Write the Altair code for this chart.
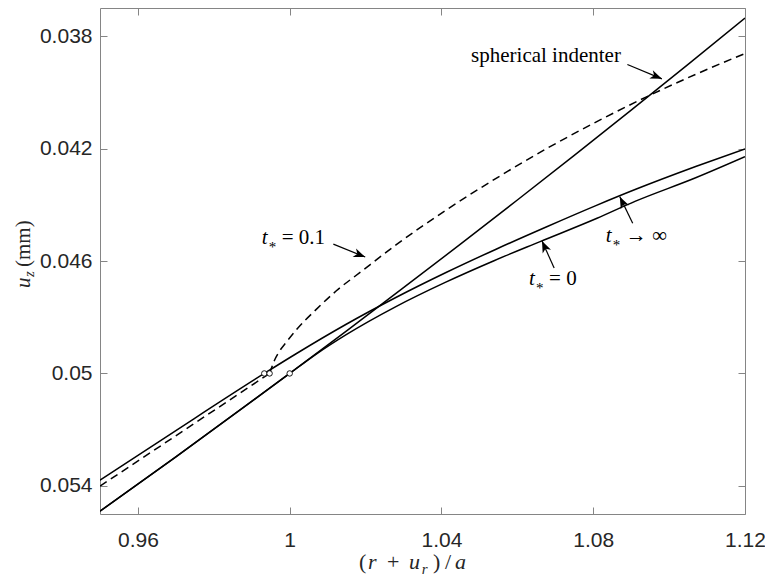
import math
import altair as alt
import pandas as pd

# ---------------- data ----------------
x_ticks = [0.96, 1.0, 1.04, 1.08, 1.12]
y_ticks = [0.038, 0.042, 0.046, 0.05, 0.054]

sph_x = [0.95, 0.97, 1.0, 1.015, 1.03, 1.045, 1.06, 1.075, 1.09, 1.105, 1.12]
sph_y = [0.0549, 0.05297, 0.05, 0.048486, 0.04695, 0.045401, 0.04383, 0.042241, 0.04063, 0.039005, 0.03736]

t0_x = [0.95, 0.97, 1.0, 1.007, 1.015, 1.028, 1.041, 1.054, 1.066, 1.081, 1.091, 1.107, 1.12]
t0_y = [0.0549, 0.05297, 0.05, 0.04931, 0.04861, 0.04762, 0.04676, 0.04598, 0.04531, 0.04448, 0.04388, 0.04304, 0.04229]

tinf_x = [0.95, 0.97, 0.9933, 1.0018, 1.0149, 1.0281, 1.0412, 1.0544, 1.0676, 1.0807, 1.0912, 1.107, 1.12]
tinf_y = [0.0538, 0.05203, 0.05, 0.04929, 0.04825, 0.04729, 0.04641, 0.04558, 0.04479, 0.04403, 0.04345, 0.04264, 0.04201]

# t* = 0.1 : outside part (left of the circle) and the part right of it
t01_left_x = [0.95, 0.9947]
t01_left_y = [0.05401, 0.05]
t01_x = [0.9947, 0.9952, 0.996, 0.9973, 0.9991, 1.0018, 1.007, 1.0123, 1.0189,
         1.0281, 1.0412, 1.0544, 1.0676, 1.0807, 1.0939, 1.107, 1.12]
t01_y = [0.05, 0.04981, 0.04953, 0.04921, 0.04889, 0.04844, 0.04772, 0.04706, 0.04637,
         0.04542, 0.04419, 0.04306, 0.04201, 0.04106, 0.04017, 0.03936, 0.03862]

circle_x = [0.9933, 0.9947, 1.0]
circle_y = [0.05, 0.05, 0.05]

arrow_tail_x = [1.0890, 1.0115, 1.0697, 1.0904]
arrow_tail_y = [0.03901, 0.04540, 0.04625, 0.04466]
arrow_tip_x = [1.0981, 1.0199, 1.0665, 1.0870]
arrow_tip_y = [0.03952, 0.04586, 0.04529, 0.04371]

sph_label = "spherical indenter"
sph_label_x = [1.0478]
sph_label_y = [0.03869]

t_label_x = [0.9926, 1.0631, 1.0833]
t_label_y = [0.04519, 0.04664, 0.04512]
t_label_rest = ["= 0.1", "= 0", "→ ∞"]

# ---------------- layout ----------------
W, H = 645, 506
X_DOMAIN = [0.95, 1.12]
Y_DOMAIN = [0.037, 0.055]
FRAME = "#858585"
LABEL = "#262626"
SERIF = "Liberation Serif"
SANS = "Liberation Sans"

xs = alt.Scale(domain=X_DOMAIN, nice=False, zero=False)
ys = alt.Scale(domain=Y_DOMAIN, reverse=True, nice=False, zero=False)

def series(xv, yv, name):
    return pd.DataFrame({"x": xv, "y": yv, "s": name, "i": range(len(xv))})

solid_df = pd.concat([series(sph_x, sph_y, "sph"),
                      series(t0_x, t0_y, "t0"),
                      series(tinf_x, tinf_y, "tinf")])
dash_df = pd.concat([series(t01_left_x, t01_left_y, "a"), series(t01_x, t01_y, "b")])
circ_df = pd.DataFrame({"x": circle_x, "y": circle_y})

angles = []
for tx0, ty0, tx1, ty1 in zip(arrow_tail_x, arrow_tail_y, arrow_tip_x, arrow_tip_y):
    dx = (tx1 - tx0) * W / (X_DOMAIN[1] - X_DOMAIN[0])
    dy = (ty1 - ty0) * H / (Y_DOMAIN[1] - Y_DOMAIN[0])
    angles.append(math.degrees(math.atan2(dx, -dy)) % 360)
arr_df = pd.DataFrame({"x": arrow_tail_x, "y": arrow_tail_y,
                       "x2": arrow_tip_x, "y2": arrow_tip_y, "ang": angles})

sph_df = pd.DataFrame({"x": sph_label_x, "y": sph_label_y, "t": [sph_label]})
tl_df = pd.DataFrame({"x": t_label_x, "y": t_label_y, "rest": t_label_rest})

X = lambda **kw: alt.X("x:Q", scale=xs, **kw)
Y = lambda **kw: alt.Y("y:Q", scale=ys, **kw)

axis_common = dict(domain=False, grid=False, offset=-7, tickSize=7, tickColor=FRAME,
                   tickWidth=1, title=None)

bottom_axis = alt.Axis(orient="bottom", values=x_ticks, format=".2~f", labelFont=SANS,
                       labelFontSize=21, labelColor=LABEL, labelPadding=15,
                       labelFlush=False, labelOverlap=False, labelBound=False, **axis_common)
left_axis = alt.Axis(orient="left", values=y_ticks, format=".3~f", labelFont=SANS,
                     labelFontSize=21, labelColor=LABEL, labelPadding=8,
                     labelFlush=False, labelOverlap=False, labelBound=False, **axis_common)
top_axis = alt.Axis(orient="top", values=x_ticks, labels=False, **axis_common)
right_axis = alt.Axis(orient="right", values=y_ticks, labels=False, **axis_common)

solid = alt.Chart(solid_df).mark_line(color="black", strokeWidth=1.5, clip=True,
                                      interpolate="monotone").encode(
    x=X(axis=bottom_axis), y=Y(axis=left_axis), detail="s:N", order="i:Q")

dashed = alt.Chart(dash_df).mark_line(color="black", strokeWidth=1.5, clip=True,
                                      strokeDash=[8, 5], interpolate="monotone").encode(
    x=X(axis=None), y=Y(axis=None), detail="s:N", order="i:Q")

circles = alt.Chart(circ_df).mark_point(shape="circle", filled=True, fill="white",
                                        stroke="black", strokeWidth=0.9, size=30,
                                        opacity=1).encode(
    x=X(axis=top_axis), y=Y(axis=right_axis))

arrow_lines = alt.Chart(arr_df).mark_rule(color="black", strokeWidth=1.2).encode(
    x=X(axis=None), y=Y(axis=None), x2="x2:Q", y2="y2:Q")

arrow_heads = alt.Chart(arr_df).mark_point(
    shape="M0,0 L0.7,1.8 L0,1.3 L-0.7,1.8 Z", filled=True, color="black",
    size=170, opacity=1).encode(
    x=alt.X("x2:Q", scale=xs, axis=None), y=alt.Y("y2:Q", scale=ys, axis=None),
    angle=alt.Angle("ang:Q", scale=None))

sph_text = alt.Chart(sph_df).mark_text(align="left", baseline="alphabetic", dy=6,
                                       font=SERIF, fontSize=21, color="black").encode(
    x=X(axis=None), y=Y(axis=None), text="t:N")

t_it = alt.Chart(tl_df).mark_text(align="left", baseline="alphabetic", dy=6,
                                  font=SERIF, fontSize=21, fontStyle="italic",
                                  color="black").encode(
    x=X(axis=None), y=Y(axis=None), text=alt.value("t"))
t_star = alt.Chart(tl_df).mark_text(align="left", baseline="alphabetic", dx=7, dy=14,
                                    font=SERIF, fontSize=15, color="black").encode(
    x=X(axis=None), y=Y(axis=None), text=alt.value("*"))
t_rest = alt.Chart(tl_df).mark_text(align="left", baseline="alphabetic", dx=20, dy=6,
                                    font=SERIF, fontSize=21, color="black").encode(
    x=X(axis=None), y=Y(axis=None), text="rest:N")

# axis titles built from pieces (pixel positions relative to the plot area)
xt_roman = pd.DataFrame({"px": [259, 287, 333, 345], "py": [561, 561, 561, 561],
                         "t": ["(", "+", ")", "/"], "fs": [22, 22, 22, 22]})
xt_italic = pd.DataFrame({"px": [268, 309, 321.8, 355], "py": [561, 561, 566, 561],
                          "t": ["r", "u", "r", "a"], "fs": [22, 22, 15, 22]})
yt_roman = pd.DataFrame({"px": [-70], "py": [259], "t": ["(mm)"], "fs": [21]})
yt_italic = pd.DataFrame({"px": [-70, -66], "py": [280, 269], "t": ["u", "z"], "fs": [21, 15]})

def pieces(df, italic, angle=0):
    kw = dict(align="left", baseline="alphabetic", font=SERIF, color="#262626", angle=angle)
    if italic:
        kw["fontStyle"] = "italic"
    return alt.Chart(df).mark_text(**kw).encode(
        x=alt.X("px:Q", scale=None, axis=None), y=alt.Y("py:Q", scale=None, axis=None),
        text="t:N", size=alt.Size("fs:Q", scale=None, legend=None))

chart = alt.layer(
    solid, dashed, circles, arrow_lines, arrow_heads, sph_text, t_it, t_star, t_rest,
    pieces(xt_roman, False), pieces(xt_italic, True),
    pieces(yt_roman, False, 270), pieces(yt_italic, True, 270),
).resolve_axis(x="independent", y="independent").properties(
    width=W, height=H, autosize=alt.AutoSizeParams(type="none"),
    padding={"left": 92, "top": 0, "right": 20, "bottom": 62},
    background="white",
).configure_view(stroke=FRAME, strokeWidth=1)

chart.save("out.html", embed_options={"renderer": "svg", "actions": False})
